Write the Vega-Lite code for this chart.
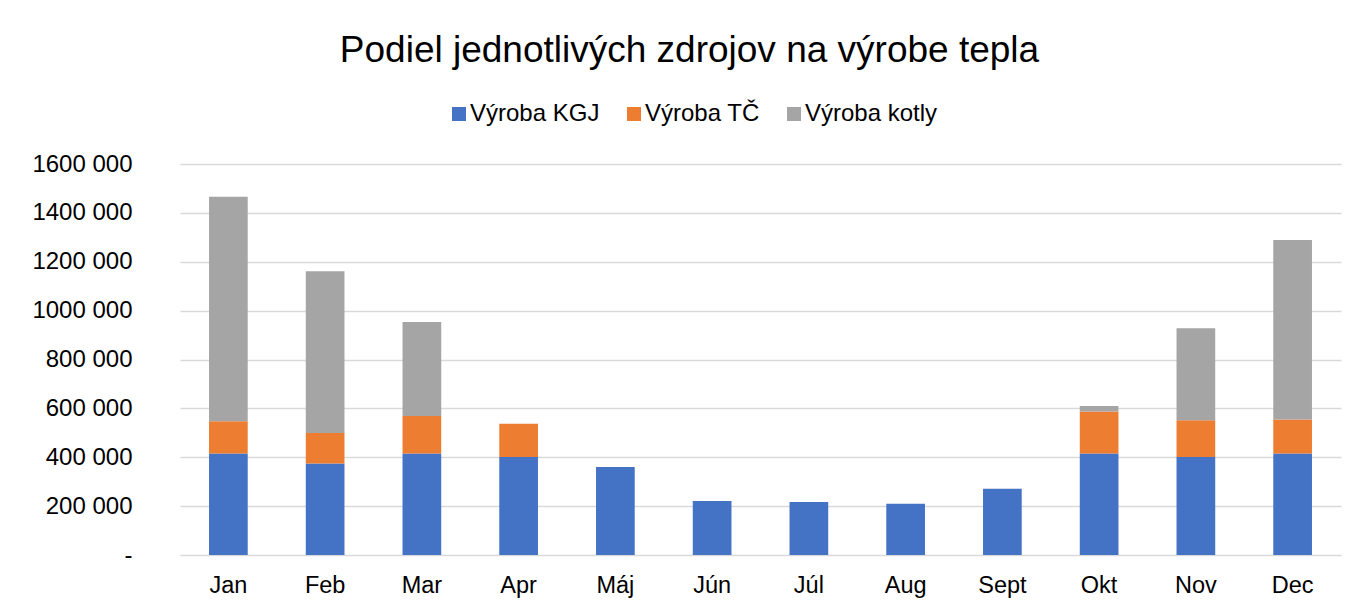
{
  "$schema": "https://vega.github.io/schema/vega-lite/v6.json",
  "autosize": {"type": "none"},
  "width": 1161,
  "height": 391,
  "padding": {"left": 180, "top": 164, "right": 17, "bottom": 53},
  "background": "white",
  "title": {
    "text": "Podiel jednotlivých zdrojov na výrobe tepla",
    "frame": "group",
    "anchor": "middle",
    "dx": -71,
    "offset": 32,
    "font": "Liberation Sans",
    "fontSize": 37,
    "fontWeight": "normal",
    "color": "#000000"
  },
  "data": {
    "values": [
      {"mesiac": "Jan", "zdroj": "Výroba KGJ", "hodnota": 415000, "ord": 1},
      {"mesiac": "Jan", "zdroj": "Výroba TČ", "hodnota": 132000, "ord": 2},
      {"mesiac": "Jan", "zdroj": "Výroba kotly", "hodnota": 919000, "ord": 3},
      {"mesiac": "Feb", "zdroj": "Výroba KGJ", "hodnota": 374000, "ord": 1},
      {"mesiac": "Feb", "zdroj": "Výroba TČ", "hodnota": 125000, "ord": 2},
      {"mesiac": "Feb", "zdroj": "Výroba kotly", "hodnota": 662000, "ord": 3},
      {"mesiac": "Mar", "zdroj": "Výroba KGJ", "hodnota": 415000, "ord": 1},
      {"mesiac": "Mar", "zdroj": "Výroba TČ", "hodnota": 154000, "ord": 2},
      {"mesiac": "Mar", "zdroj": "Výroba kotly", "hodnota": 384000, "ord": 3},
      {"mesiac": "Apr", "zdroj": "Výroba KGJ", "hodnota": 401000, "ord": 1},
      {"mesiac": "Apr", "zdroj": "Výroba TČ", "hodnota": 136000, "ord": 2},
      {"mesiac": "Máj", "zdroj": "Výroba KGJ", "hodnota": 360000, "ord": 1},
      {"mesiac": "Jún", "zdroj": "Výroba KGJ", "hodnota": 221000, "ord": 1},
      {"mesiac": "Júl", "zdroj": "Výroba KGJ", "hodnota": 217000, "ord": 1},
      {"mesiac": "Aug", "zdroj": "Výroba KGJ", "hodnota": 210000, "ord": 1},
      {"mesiac": "Sept", "zdroj": "Výroba KGJ", "hodnota": 271000, "ord": 1},
      {"mesiac": "Okt", "zdroj": "Výroba KGJ", "hodnota": 415000, "ord": 1},
      {"mesiac": "Okt", "zdroj": "Výroba TČ", "hodnota": 172000, "ord": 2},
      {"mesiac": "Okt", "zdroj": "Výroba kotly", "hodnota": 23000, "ord": 3},
      {"mesiac": "Nov", "zdroj": "Výroba KGJ", "hodnota": 401000, "ord": 1},
      {"mesiac": "Nov", "zdroj": "Výroba TČ", "hodnota": 150000, "ord": 2},
      {"mesiac": "Nov", "zdroj": "Výroba kotly", "hodnota": 377000, "ord": 3},
      {"mesiac": "Dec", "zdroj": "Výroba KGJ", "hodnota": 415000, "ord": 1},
      {"mesiac": "Dec", "zdroj": "Výroba TČ", "hodnota": 139000, "ord": 2},
      {"mesiac": "Dec", "zdroj": "Výroba kotly", "hodnota": 735000, "ord": 3}
    ]
  },
  "mark": {"type": "bar"},
  "encoding": {
    "x": {
      "field": "mesiac",
      "type": "nominal",
      "sort": ["Jan", "Feb", "Mar", "Apr", "Máj", "Jún", "Júl", "Aug", "Sept", "Okt", "Nov", "Dec"],
      "scale": {"paddingInner": 0.6, "paddingOuter": 0.3},
      "axis": {
        "title": null,
        "labelAngle": 0,
        "domain": false,
        "ticks": false,
        "grid": false,
        "labelFont": "Liberation Sans",
        "labelFontSize": 23.5,
        "labelColor": "#000000",
        "labelBaseline": "alphabetic",
        "labelPadding": 37
      }
    },
    "y": {
      "field": "hodnota",
      "type": "quantitative",
      "stack": "zero",
      "scale": {"domain": [0, 1600000], "nice": false},
      "axis": {
        "title": null,
        "values": [0, 200000, 400000, 600000, 800000, 1000000, 1200000, 1400000, 1600000],
        "labelExpr": "datum.value == 0 ? '-' : (datum.value / 1000) + ' 000'",
        "domain": false,
        "ticks": false,
        "grid": true,
        "gridColor": "#D9D9D9",
        "gridWidth": 1.4,
        "labelFont": "Liberation Sans",
        "labelFontSize": 24,
        "labelColor": "#000000",
        "labelPadding": 48,
        "labelBaseline": "middle"
      }
    },
    "color": {
      "field": "zdroj",
      "type": "nominal",
      "scale": {
        "domain": ["Výroba KGJ", "Výroba TČ", "Výroba kotly"],
        "range": ["#4472C4", "#ED7D31", "#A5A5A5"]
      },
      "legend": {
        "title": null,
        "orient": "none",
        "direction": "horizontal",
        "legendX": 267,
        "legendY": -62,
        "padding": 0,
        "symbolType": "square",
        "symbolSize": 196,
        "symbolStrokeWidth": 0,
        "labelFont": "Liberation Sans",
        "labelFontSize": 24,
        "labelColor": "#000000",
        "labelOffset": -1,
        "columnPadding": 22
      }
    },
    "order": {"field": "ord", "type": "quantitative"}
  },
  "config": {
    "view": {"stroke": null}
  }
}
